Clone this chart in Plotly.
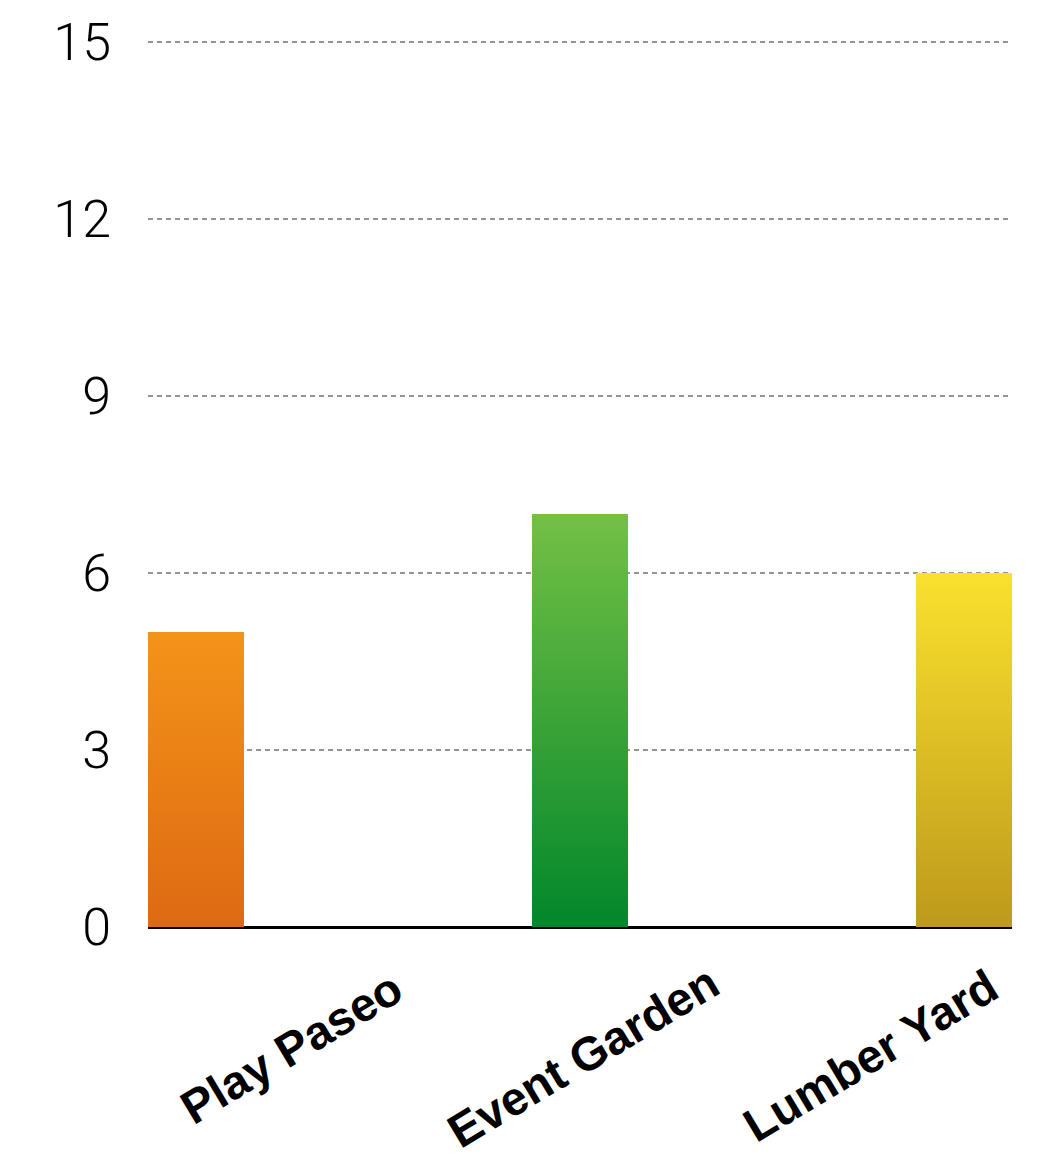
import plotly.graph_objects as go

categories = ["Play Paseo", "Event Garden", "Lumber Yard"]
values = [5, 7, 6]
top_colors = ["#F39419", "#74C045", "#FAE12E"]
bottom_colors = ["#DE6913", "#02872B", "#BE991C"]
mid_colors = ["#E97E16", "#3AA338", "#DCBD25"]
y_ticks = [0, 3, 6, 9, 12, 15]

bar_width = 0.25
positions = list(range(len(categories)))

fig = go.Figure()
fig.add_trace(go.Bar(x=positions, y=values, width=bar_width,
                     marker=dict(color=mid_colors, line=dict(width=0)),
                     hoverinfo="skip", showlegend=False))

for i, v in enumerate(values):
    x0, x1 = i - bar_width / 2, i + bar_width / 2
    fig.add_trace(go.Scatter(
        x=[x0, x1, x1, x0, x0], y=[0, 0, v, v, 0],
        mode="lines", line=dict(width=0), fill="toself",
        fillgradient=dict(type="vertical",
                          colorscale=[[0, bottom_colors[i]], [1, top_colors[i]]]),
        hoverinfo="skip", showlegend=False))

label_shifts = [(95, -120), (3, -129), (-94, -128)]
for i, name in enumerate(categories):
    fig.add_annotation(x=i, y=0, xref="x", yref="y", text=name, showarrow=False,
                       textangle=-31, xanchor="center", yanchor="middle",
                       xshift=label_shifts[i][0], yshift=label_shifts[i][1],
                       font=dict(family="Liberation Sans, Arial", size=47,
                                 color="black", weight="bold"))

fig.update_layout(
    width=1042, height=1160,
    margin=dict(l=148, r=30, t=37, b=233),
    paper_bgcolor="white", plot_bgcolor="white",
    xaxis=dict(range=[-0.125, 2.125], showticklabels=False, showgrid=False,
               zeroline=False, showline=False, fixedrange=True),
    yaxis=dict(range=[0, 15.035], tickvals=y_ticks, showgrid=True,
               gridcolor="#959595", griddash="5px,4px", gridwidth=2,
               zeroline=True, zerolinecolor="black", zerolinewidth=2.5,
               ticks="", ticklabelstandoff=36,
               tickfont=dict(family="Roboto", size=52, color="black", weight=300)),
)

fig.write_html("out.html")
